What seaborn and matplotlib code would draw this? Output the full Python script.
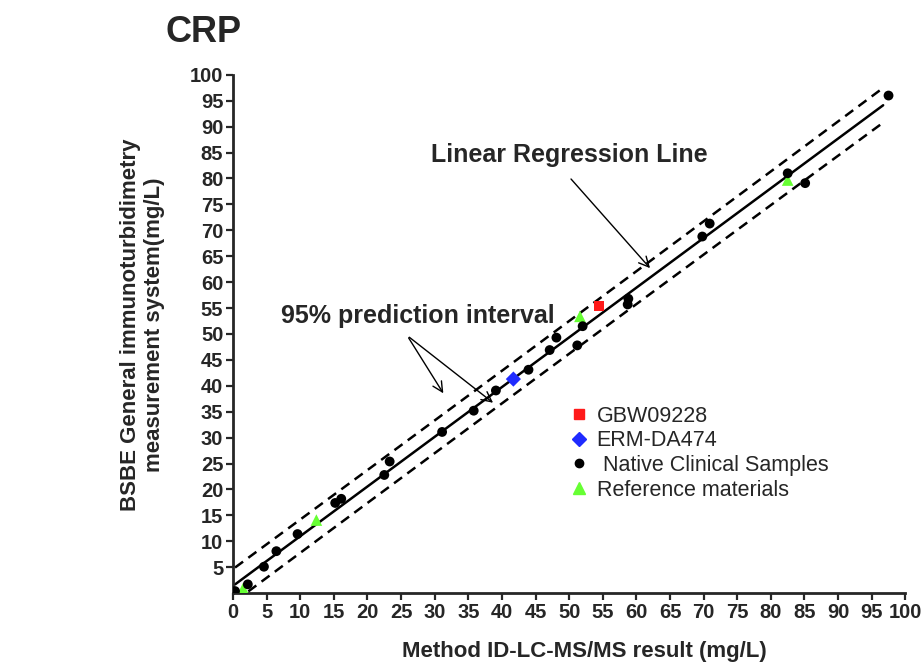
import numpy as np
import pandas as pd
import matplotlib
matplotlib.use("Agg")
import matplotlib.pyplot as plt
import seaborn as sns
from matplotlib.lines import Line2D

# ---- data ----
clinical_x = [0.3, 2.2, 4.6, 6.45, 9.6, 15.2, 16.1, 22.5, 23.3, 31.1, 35.8, 39.1,
              43.95, 47.1, 48.1, 51.2, 52.0, 58.8, 58.7, 69.8, 70.9, 82.5, 85.1, 97.5]
clinical_y = [0.4, 1.7, 5.1, 8.1, 11.4, 17.4, 18.2, 22.8, 25.4, 31.1, 35.2, 39.1,
              43.1, 46.9, 49.3, 47.8, 51.5, 56.8, 55.7, 68.8, 71.3, 81.0, 79.1, 96.0]
refmat_x = [1.5, 12.4, 51.6, 82.5]
refmat_y = [0.9, 14.1, 53.4, 79.7]
gbw_x = [54.4]
gbw_y = [55.4]
erm_x = [41.7]
erm_y = [41.3]

group_labels = ["GBW09228", "ERM-DA474", " Native Clinical Samples", "Reference materials"]
x_ticks = list(range(0, 101, 5))
y_ticks = list(range(5, 101, 5))
line_x_range = [0.3, 96.7]
t_value = 2.04  # Student t, ~30 df, 95%

sns.set_style("ticks")
plt.rcParams['font.family'] = ['Liberation Sans', 'DejaVu Sans']

fig = plt.figure(figsize=(9.21, 6.62), dpi=100)
ax = fig.add_axes([0.253, 0.104, 0.730, 0.783])

# regression + prediction interval from all points
all_x = np.array(clinical_x + refmat_x + gbw_x + erm_x)
all_y = np.array(clinical_y + refmat_y + gbw_y + erm_y)
b, a = np.polyfit(all_x, all_y, 1)
n = len(all_x)
resid = all_y - (a + b * all_x)
s = np.sqrt(np.sum(resid ** 2) / (n - 2))
xm = all_x.mean()
sxx = np.sum((all_x - xm) ** 2)
xl = np.linspace(line_x_range[0], line_x_range[1], 200)
yl = a + b * xl
half = t_value * s * np.sqrt(1 + 1 / n + (xl - xm) ** 2 / sxx)
line_df = pd.DataFrame({"x": xl, "fit": yl, "upper": yl + half, "lower": yl - half})

sns.lineplot(data=line_df, x="x", y="fit", color="black", lw=1.8, ax=ax)
for col in ["upper", "lower"]:
    sns.lineplot(data=line_df, x="x", y=col, color="black", lw=1.8, ax=ax,
                 dashes=False, linestyle=(0, (4, 2.6)))

# points
sns.scatterplot(x=gbw_x, y=gbw_y, marker="s", color="#ff1a1a", s=55,
                edgecolor="none", ax=ax, zorder=5)
sns.scatterplot(x=erm_x, y=erm_y, marker="D", color="#1f2bff", s=60,
                edgecolor="none", ax=ax, zorder=5)
sns.scatterplot(x=clinical_x, y=clinical_y, marker="o", color="black", s=50,
                edgecolor="none", ax=ax, zorder=5)
sns.scatterplot(x=refmat_x, y=refmat_y, marker="^", color="#66ff33", s=70,
                edgecolor="none", ax=ax, zorder=4)

ax.set_xlim(0, 100)
ax.set_ylim(0, 100)
ax.set_xticks(x_ticks)
ax.set_yticks(y_ticks)
ax.set_xticklabels([str(v) for v in x_ticks], fontsize=14.5, fontweight="bold")
ax.set_yticklabels([str(v) for v in y_ticks], fontsize=14.5, fontweight="bold")
ax.tick_params(axis="both", length=5, width=1.6, pad=2)
sns.despine(ax=ax)
for sp in ["left", "bottom"]:
    ax.spines[sp].set_linewidth(2)

ax.set_xlabel("Method ID-LC-MS/MS result (mg/L)", fontsize=16, fontweight="bold")
ax.xaxis.set_label_coords(0.523, -0.092)
ax.set_ylabel("BSBE General immunoturbidimetry\nmeasurement system(mg/L)",
              fontsize=16, fontweight="bold")
ax.yaxis.set_label_coords(-0.101, 0.517)

fig.text(165 / 921, 1 - 32 / 662, "CRP", fontsize=26, fontweight="bold",
         ha="left", va="center")

# annotations
ax.text(50.0, 84.5, "Linear Regression Line", fontsize=18, fontweight="bold",
        ha="center", va="center")
ax.annotate("", xy=(62.3, 62.3), xytext=(50.0, 80.3),
            arrowprops=dict(arrowstyle="->", color="black", lw=1, mutation_scale=18))
ax.text(27.5, 53.4, "95% prediction interval", fontsize=18, fontweight="bold",
        ha="center", va="center")
for tx, ty in [(31.5, 38.1), (39.0, 36.4)]:
    ax.annotate("", xy=(tx, ty), xytext=(25.9, 49.7),
                arrowprops=dict(arrowstyle="->", color="black", lw=1, mutation_scale=18))

# legend
handles = [
    Line2D([], [], marker="s", color="#ff1a1a", ls="none", markersize=7),
    Line2D([], [], marker="D", color="#1f2bff", ls="none", markersize=7),
    Line2D([], [], marker="o", color="black", ls="none", markersize=6),
    Line2D([], [], marker="^", color="#66ff33", ls="none", markersize=9),
]
fig.legend(handles, group_labels, loc="upper left", bbox_to_anchor=(560 / 921, 1 - 397 / 662),
           frameon=False, fontsize=15.5, handletextpad=0.3, labelspacing=0.17,
           handlelength=1.0, borderaxespad=0)

fig.savefig("out.png", dpi=100)
